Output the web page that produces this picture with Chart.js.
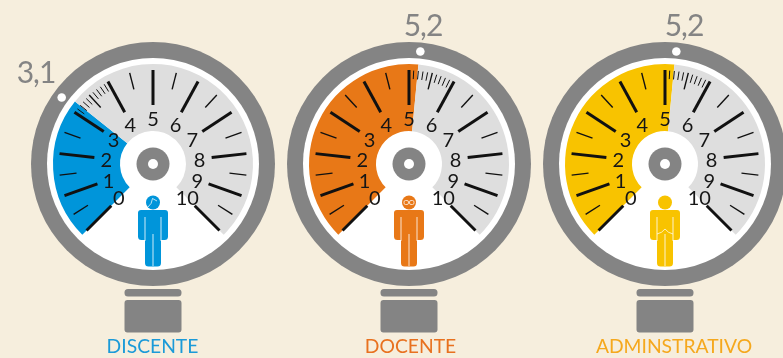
<!DOCTYPE html>
<html lang="pt">
<head>
  <meta charset="UTF-8" />
  <title>Manômetros</title>
  <style>
    body { margin: 0; background: #f6eedd; overflow: hidden; width: 783px; height: 358px; position: relative; }
    canvas { position: absolute; top: 0; }
  </style>
</head>
<body>
  <script src="https://cdn.jsdelivr.net/npm/chart.js"></script>
  <script>
    // data
    const categories = ['DISCENTE', 'DOCENTE', 'ADMINSTRATIVO'];
    const values = [3.1, 5.2, 5.2];
    const valueLabels = ['3,1', '5,2', '5,2'];
    const dialMax = 10;
    const majorTicks = [0, 1, 2, 3, 4, 5, 6, 7, 8, 9, 10];
    const minorTicks = [0.5, 1.5, 2.5, 3.5, 4.5, 5.5, 6.5, 7.5, 8.5, 9.5];
    const fineSteps = [0.1, 0.2, 0.3, 0.4, 0.6, 0.7, 0.8, 0.9];

    const fillColors = ['#0095da', '#e87817', '#f8c300'];
    const nameColors = ['#1b9ad8', '#e8711f', '#f5a81d'];
    const bezel = '#848484';
    const dialGrey = '#dedede';

    // layout of each gauge on the page
    const centersX = [153, 409, 665];
    const centerY = 164;
    const nameCenters = [152.5, 410.5, 674];
    const readingOffsets = [[-117, -91], [14, -138], [19, -138]];

    // the printed dial is a bit wider around 2.5 and 7.5 than a even scale (degrees)
    const dialStretch = v => 2.8 * Math.sin((v - 5) * Math.PI / 5);

    // the little marks on each figure's head and shirt
    function figureDetail(ctx, i, x, y) {
      ctx.strokeStyle = 'rgba(255,255,255,0.9)';
      ctx.lineWidth = 0.8;
      ctx.beginPath();
      if (i === 0) {
        ctx.moveTo(x - 5, y + 43);
        ctx.quadraticCurveTo(x - 1, y + 40, x - 0.5, y + 34.5);
        ctx.lineTo(x + 4, y + 37);
      } else if (i === 1) {
        ctx.roundRect(x - 5, y + 36.5, 4.5, 4, 1.5);
        ctx.roundRect(x + 0.5, y + 36.5, 4.5, 4, 1.5);
      } else {
        ctx.moveTo(x - 8, y + 70);
        ctx.quadraticCurveTo(x - 3, y + 69, x, y + 65);
        ctx.quadraticCurveTo(x + 3, y + 69, x + 8, y + 70);
      }
      ctx.stroke();
    }

    function drawFigure(ctx, i, x, y) {
      ctx.fillStyle = fillColors[i];
      ctx.beginPath();
      ctx.arc(x, y + 38.5, 7, 0, Math.PI * 2);
      ctx.fill();
      ctx.beginPath();
      ctx.roundRect(x - 15, y + 46, 30, 30, [3, 3, 3.5, 3.5]);
      ctx.roundRect(x - 8, y + 46, 16, 56.5, 3.5);
      ctx.fill();
      ctx.strokeStyle = 'rgba(255,255,255,0.9)';
      ctx.lineWidth = 0.9;
      ctx.beginPath();
      ctx.moveTo(x - 8, y + 53);
      ctx.lineTo(x - 8, y + 77);
      ctx.moveTo(x + 8, y + 53);
      ctx.lineTo(x + 8, y + 77);
      ctx.moveTo(x, y + 70);
      ctx.lineTo(x, y + 102);
      ctx.stroke();
      figureDetail(ctx, i, x, y);
    }

    const gaugeParts = {
      id: 'gaugeParts',
      // case, stand and the white face go under the arcs
      beforeDatasetsDraw(chart, args, opts) {
        const ctx = chart.ctx;
        const arc = chart.getDatasetMeta(0).data[0];
        const x = arc.x, y = arc.y;
        ctx.save();
        ctx.fillStyle = bezel;
        ctx.beginPath();
        ctx.arc(x, y, 122, 0, Math.PI * 2);
        ctx.fill();
        ctx.fillStyle = '#fff';
        ctx.beginPath();
        ctx.arc(x, y, 106, 0, Math.PI * 2);
        ctx.fill();
        ctx.fillStyle = bezel;
        ctx.beginPath();
        ctx.roundRect(x - 28.5, 289, 57, 7.5, 3.5);
        ctx.roundRect(x - 28.5, 300, 57, 32.5, 3);
        ctx.fill();
        ctx.restore();
      },
      // everything that sits on the dial comes after them
      afterDatasetsDraw(chart, args, opts) {
        const ctx = chart.ctx;
        const i = opts.index;
        const arc = chart.getDatasetMeta(0).data[0];
        const x = arc.x, y = arc.y;
        // angle of a dial value, from the arc the library laid out
        const perUnit = (arc.endAngle - arc.startAngle) / values[i];
        const px = (v, r, stretch = 1) => {
          const a = arc.startAngle + v * perUnit + stretch * dialStretch(v) * Math.PI / 180;
          return [x + r * Math.cos(a), y + r * Math.sin(a)];
        };
        const tick = (v, r0, r1, w) => {
          const a = px(v, r0), b = px(v, r1);
          ctx.lineWidth = w;
          ctx.beginPath();
          ctx.moveTo(a[0], a[1]);
          ctx.lineTo(b[0], b[1]);
          ctx.stroke();
        };

        ctx.save();
        ctx.strokeStyle = '#111';
        majorTicks.forEach(v => tick(v, 59, 94, 3));
        minorTicks.forEach(v => tick(v, 77, 94, 1.4));
        fineSteps.forEach(s => tick(Math.floor(values[i]) + s, 85, 93.5, 1));

        // hub
        ctx.fillStyle = bezel;
        ctx.beginPath();
        ctx.arc(x, y, 16.5, 0, Math.PI * 2);
        ctx.fill();
        ctx.fillStyle = '#fff';
        ctx.beginPath();
        ctx.arc(x, y, 5, 0, Math.PI * 2);
        ctx.fill();

        // needle dot on the case
        const dot = px(values[i], 113);
        ctx.beginPath();
        ctx.arc(dot[0], dot[1], 4.3, 0, Math.PI * 2);
        ctx.fill();

        // dial numbers
        ctx.fillStyle = '#161616';
        ctx.font = '20px Lato';
        ctx.textAlign = 'center';
        ctx.textBaseline = 'middle';
        majorTicks.forEach(v => {
          const p = px(v, 44 + 0.9 * Math.abs(v - 5), 2);
          ctx.fillText(String(v), p[0], p[1]);
        });

        // reading above the case
        ctx.fillStyle = bezel;
        ctx.font = '30px Lato';
        ctx.letterSpacing = '-1px';
        ctx.fillText(valueLabels[i], x + readingOffsets[i][0], y + readingOffsets[i][1]);
        ctx.letterSpacing = '0px';

        drawFigure(ctx, i, x, y);

        // name under the stand
        ctx.fillStyle = nameColors[i];
        ctx.font = '19.3px Lato';
        ctx.fillText(categories[i], nameCenters[i] - centersX[i] + x, 347);
        ctx.restore();
      }
    };

    categories.forEach((name, i) => {
      const canvas = document.createElement('canvas');
      canvas.width = 300;
      canvas.height = 358;
      canvas.style.left = (centersX[i] - 150) + 'px';
      document.body.appendChild(canvas);

      new Chart(canvas, {
        type: 'doughnut',
        plugins: [gaugeParts],
        data: {
          labels: ['valor', 'resto', ''],
          datasets: [{
            // the last slice is the open bottom quarter of the dial
            data: [values[i], dialMax - values[i], dialMax / 3],
            backgroundColor: [fillColors[i], dialGrey, 'rgba(0,0,0,0)'],
            borderWidth: 0
          }]
        },
        options: {
          responsive: false,
          animation: false,
          rotation: -135,
          radius: 100,
          cutout: '33%',
          layout: { padding: { bottom: 358 - 2 * centerY } },
          plugins: {
            legend: { display: false },
            tooltip: { enabled: false },
            gaugeParts: { index: i }
          }
        }
      });
    });
  </script>
</body>
</html>
